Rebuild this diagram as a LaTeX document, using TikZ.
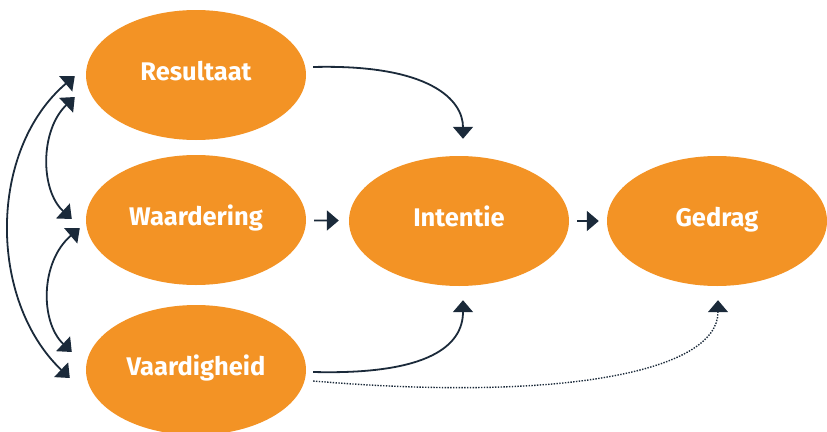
\documentclass[tikz,border=0pt]{standalone}
\usepackage{fontspec}
\setmainfont{Fira Sans}
\usetikzlibrary{arrows.meta,calc,shapes.geometric}
\definecolor{oranje}{HTML}{F39325}
\definecolor{navy}{HTML}{1B2A3A}
\begin{document}
\begin{tikzpicture}[x=1pt,y=-1pt,
  blob/.style={ellipse,fill=oranje,draw=none,minimum width=220pt,minimum height=130pt,
    text=white,font=\fontsize{25.5}{28}\selectfont\bfseries,inner sep=0pt,
    text height=17pt,text depth=7pt},
  arr/.style={draw=navy,line width=1.8pt,-{Triangle[width=20pt,length=12pt]}},
  darr/.style={draw=navy,line width=1.8pt,{Triangle[width=20pt,length=12pt]}-{Triangle[width=20pt,length=12pt]}},
  dotarr/.style={draw=navy,line width=1.4pt,dash pattern=on 1.4pt off 1.4pt,-{Triangle[width=20pt,length=12pt]}}]
\useasboundingbox (0,0) rectangle (827,431);
\node[blob] (R) at (196,75) {Resultaat};
\node[blob] (W) at (196,220) {Waardering};
\node[blob] (V) at (196,370) {Vaardigheid};
\node[blob] (I) at (459,221) {Intentie};
\node[blob] (G) at (717,221) {Gedrag};
% named connector ends
\coordinate (r1) at ($(R.east)+(7,-8)$);
\coordinate (i1) at ($(I.north)+(4,-17)$);
\coordinate (v1) at ($(V.east)+(7,2)$);
\coordinate (v2) at ($(V.east)+(7,11)$);
\coordinate (i2) at ($(I.south)+(4,14)$);
\coordinate (g2) at ($(G.south)+(1,14)$);
\coordinate (ra) at ($(R.west)+(-11,22)$);
\coordinate (rb) at ($(R.west)+(-11,1)$);
\coordinate (wa) at ($(W.west)+(-14,-1)$);
\coordinate (wb) at ($(W.west)+(-6,8)$);
\coordinate (va) at ($(V.west)+(-14,-18)$);
\coordinate (vb) at ($(V.west)+(-16,8)$);
% connectors
\draw[arr] (r1) .. controls (430,64) and (463,100) .. (i1);
\draw[arr,shorten <=8pt,shorten >=10pt] (W) -- (I);
\draw[arr,shorten <=8pt,shorten >=8pt] (I) -- (G);
\draw[arr] (v1) .. controls (430,375) and (463,345) .. (i2);
\draw[dotarr] (v2) .. controls (560,402) and (718,372) .. (g2);
\draw[darr] (ra) .. controls (40,130) and (40,190) .. (wa);
\draw[darr] (wb) .. controls (40,262) and (40,322) .. (va);
\draw[darr] (rb) .. controls (-12,150) and (-12,300) .. (vb);
\end{tikzpicture}
\end{document}
